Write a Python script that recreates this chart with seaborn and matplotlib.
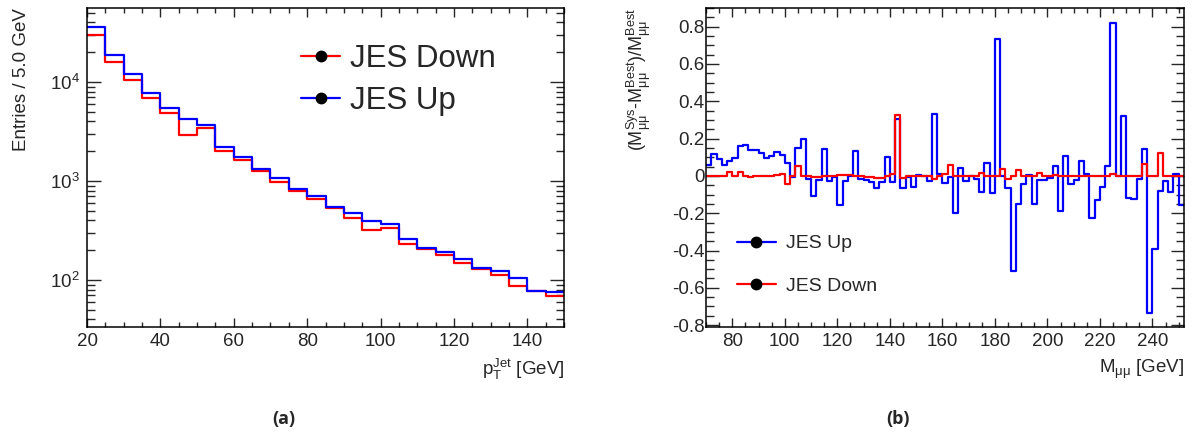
import numpy as np
import pandas as pd
import matplotlib
matplotlib.use("Agg")
import matplotlib.pyplot as plt
import seaborn as sns
from matplotlib.lines import Line2D
from matplotlib.ticker import MultipleLocator, LogLocator, NullFormatter

# ---------------- data ----------------
# (a) jet pT spectra, 5 GeV bins from 20 to 150 GeV
pt_edges = list(range(20, 155, 5))
pt_jes_up = [36200, 18700, 12200, 7800, 5450, 4230, 3680, 2220, 1760, 1330,
             1070, 830, 705, 550, 476, 394, 371, 261, 212, 190,
             162, 133, 124, 105, 78, 75]
pt_jes_down = [29900, 15800, 10500, 6890, 4830, 2940, 3430, 2020, 1630, 1250,
               984, 787, 653, 530, 427, 318, 337, 233, 206, 178,
               149, 129, 112, 87, 78, 69]

# (b) relative shift of the dimuon mass, 2 GeV bins from 70 to 252 GeV
m_edges = list(range(70, 254, 2))
m_jes_up = [0.060, 0.116, 0.090, 0.058, 0.082, 0.097, 0.161, 0.165, 0.138, 0.138,
            0.122, 0.095, 0.107, 0.130, 0.114, 0.068, -0.004, 0.149, 0.199, -0.015,
            -0.110, -0.020, 0.143, -0.025, -0.006, -0.156, -0.028, 0.000, 0.136, -0.019,
            -0.022, -0.034, -0.066, -0.032, 0.100, -0.032, 0.305, -0.066, -0.006, -0.061,
            0.003, -0.003, -0.030, 0.332, 0.011, -0.038, -0.008, -0.198, 0.045, -0.028,
            0.000, -0.014, -0.085, 0.067, -0.092, 0.734, 0.000, -0.065, -0.508, -0.148,
            -0.042, 0.004, -0.150, -0.021, -0.021, -0.012, 0.052, -0.188, 0.104, -0.042,
            -0.021, 0.082, 0.011, -0.227, -0.131, -0.061, 0.055, 0.820, 0.000, 0.323,
            -0.118, -0.122, -0.017, 0.146, -0.734, -0.390, -0.082, -0.025, -0.084, 0.011,
            -0.156]
m_jes_down = [0.000, 0.000, 0.000, 0.000, 0.022, 0.000, 0.022, 0.000, -0.005, 0.002,
              0.000, 0.000, 0.002, 0.004, 0.009, -0.046, 0.000, 0.055, 0.000, -0.002,
              -0.004, -0.004, -0.003, -0.003, -0.003, 0.005, 0.005, 0.005, 0.000, 0.000,
              -0.004, -0.004, -0.009, -0.009, -0.003, 0.011, 0.328, -0.009, 0.000, 0.000,
              0.000, 0.000, 0.000, -0.014, 0.000, 0.011, 0.059, 0.000, 0.000, 0.000,
              0.000, 0.000, 0.014, 0.000, 0.000, 0.000, 0.038, -0.016, 0.000, 0.032,
              0.000, 0.000, 0.000, 0.016, 0.000, 0.000, 0.007, 0.000, 0.000, 0.000,
              0.000, 0.000, 0.000, 0.000, 0.000, 0.000, 0.000, 0.009, 0.000, 0.000,
              0.000, 0.000, 0.000, 0.062, 0.000, 0.000, 0.122, 0.000, 0.000, 0.000,
              0.000]

# ---------------- style ----------------
sns.set_style("ticks")
plt.rcParams["font.family"] = ["Liberation Sans", "DejaVu Sans"]
plt.rcParams["mathtext.fontset"] = "custom"
plt.rcParams["mathtext.rm"] = "Liberation Sans"
plt.rcParams["mathtext.it"] = "Liberation Sans"
plt.rcParams["mathtext.bf"] = "Liberation Sans:bold"
plt.rcParams["mathtext.default"] = "regular"

RED = "#ff0000"
BLUE = "#0000ff"
W, H = 1192, 432
TICK_FS = 13.5
LABEL_FS = 13.5

fig = plt.figure(figsize=(W / 100, H / 100), dpi=100)
ax1 = fig.add_axes([87 / W, 1 - 327 / H, (564 - 87) / W, (327 - 8) / H])
ax2 = fig.add_axes([706 / W, 1 - 327 / H, (1184 - 706) / W, (327 - 8) / H])

pt_df = pd.DataFrame({
    "center": np.array(pt_edges[:-1]) + 2.5,
    "up": pt_jes_up,
    "down": pt_jes_down,
})
m_df = pd.DataFrame({
    "center": np.array(m_edges[:-1]) + 1.0,
    "up": m_jes_up,
    "down": m_jes_down,
})

# ---- panel (a) ----
sns.histplot(data=pt_df, x="center", weights="down", bins=pt_edges, element="step",
             fill=False, color=RED, linewidth=1.6, ax=ax1)
sns.histplot(data=pt_df, x="center", weights="up", bins=pt_edges, element="step",
             fill=False, color=BLUE, linewidth=1.6, ax=ax1)
ax1.set_yscale("log")
ax1.set_xlim(20, 150)
ax1.set_ylim(33.5, 56000)
ax1.xaxis.set_major_locator(MultipleLocator(20))
ax1.xaxis.set_minor_locator(MultipleLocator(5))
ax1.yaxis.set_major_locator(LogLocator(base=10))
ax1.yaxis.set_minor_locator(LogLocator(base=10, subs=np.arange(2, 10)))
ax1.yaxis.set_minor_formatter(NullFormatter())
ax1.tick_params(axis="x", which="major", direction="in", length=6.5, width=1, top=True,
                labelsize=TICK_FS, pad=4)
ax1.tick_params(axis="x", which="minor", direction="in", length=3.6, width=1, top=True)
ax1.tick_params(axis="y", which="major", direction="in", length=10, width=1, right=True,
                labelsize=TICK_FS, pad=5)
ax1.tick_params(axis="y", which="minor", direction="in", length=6, width=1, right=True)
ax1.set_xlabel(r"$p_{T}^{Jet}$ [GeV]", fontsize=LABEL_FS, loc="right")
ax1.xaxis.set_label_coords(1.0, -0.095)
ax1.set_ylabel("Entries / 5.0 GeV", fontsize=LABEL_FS, loc="top")
ax1.yaxis.set_label_coords(-0.12, 1.0)

leg_handles_a = [
    Line2D([0], [0], color=RED, lw=1.6, marker="o", mfc="black", mec="black", ms=7.5),
    Line2D([0], [0], color=BLUE, lw=1.6, marker="o", mfc="black", mec="black", ms=7.5),
]
fig.legend(leg_handles_a, ["JES Down", "JES Up"], loc="center left",
           bbox_to_anchor=(301 / W, 1 - 80 / H), frameon=False, fontsize=22.5,
           borderpad=0, borderaxespad=0, handlelength=1.25, handletextpad=0.32,
           labelspacing=0.4)

# ---- panel (b) ----
sns.histplot(data=m_df, x="center", weights="up", bins=m_edges, element="step",
             fill=False, color=BLUE, linewidth=1.6, ax=ax2)
sns.histplot(data=m_df, x="center", weights="down", bins=m_edges, element="step",
             fill=False, color=RED, linewidth=1.6, ax=ax2)
ax2.set_xlim(70, 252)
ax2.set_ylim(-0.81, 0.9)
ax2.xaxis.set_major_locator(MultipleLocator(20))
ax2.xaxis.set_minor_locator(MultipleLocator(5))
ax2.yaxis.set_major_locator(MultipleLocator(0.2))
ax2.yaxis.set_minor_locator(MultipleLocator(0.05))
ax2.yaxis.set_major_formatter(matplotlib.ticker.FuncFormatter(
    lambda v, p: "0" if abs(v) < 1e-9 else f"{v:.1f}"))
ax2.tick_params(axis="x", which="major", direction="in", length=6.5, width=1, top=True,
                labelsize=TICK_FS, pad=4)
ax2.tick_params(axis="x", which="minor", direction="in", length=3.6, width=1, top=True)
ax2.tick_params(axis="y", which="major", direction="in", length=9.5, width=1, right=True,
                labelsize=TICK_FS, pad=1)
ax2.tick_params(axis="y", which="minor", direction="in", length=5.5, width=1, right=True)
ax2.set_xlabel(r"$M_{\mu\mu}$ [GeV]", fontsize=LABEL_FS, loc="right")
ax2.xaxis.set_label_coords(1.0, -0.095)
ax2.set_ylabel(r"$(M_{\mu\mu}^{Sys}$-$M_{\mu\mu}^{Best})/M_{\mu\mu}^{Best}$",
               fontsize=13, loc="top")
ax2.yaxis.set_label_coords(-0.11, 1.0)

leg_handles_b = [
    Line2D([0], [0], color=BLUE, lw=1.6, marker="o", mfc="black", mec="black", ms=7.5),
    Line2D([0], [0], color=RED, lw=1.6, marker="o", mfc="black", mec="black", ms=7.5),
]
fig.legend(leg_handles_b, ["JES Up", "JES Down"], loc="center left",
           bbox_to_anchor=(737 / W, 1 - 265 / H), frameon=False, fontsize=14,
           borderpad=0, borderaxespad=0, handlelength=2.0, handletextpad=0.5,
           labelspacing=1.3)

for ax in (ax1, ax2):
    for s in ax.spines.values():
        s.set_linewidth(1.1)
        s.set_color("black")

fig.text(284 / W, 1 - 419 / H, "(a)", ha="center", va="center", fontsize=13,
         fontweight="bold", family=["Open Sans", "DejaVu Sans"])
fig.text(898 / W, 1 - 419 / H, "(b)", ha="center", va="center", fontsize=13,
         fontweight="bold", family=["Open Sans", "DejaVu Sans"])

fig.savefig("out.png", dpi=100)
